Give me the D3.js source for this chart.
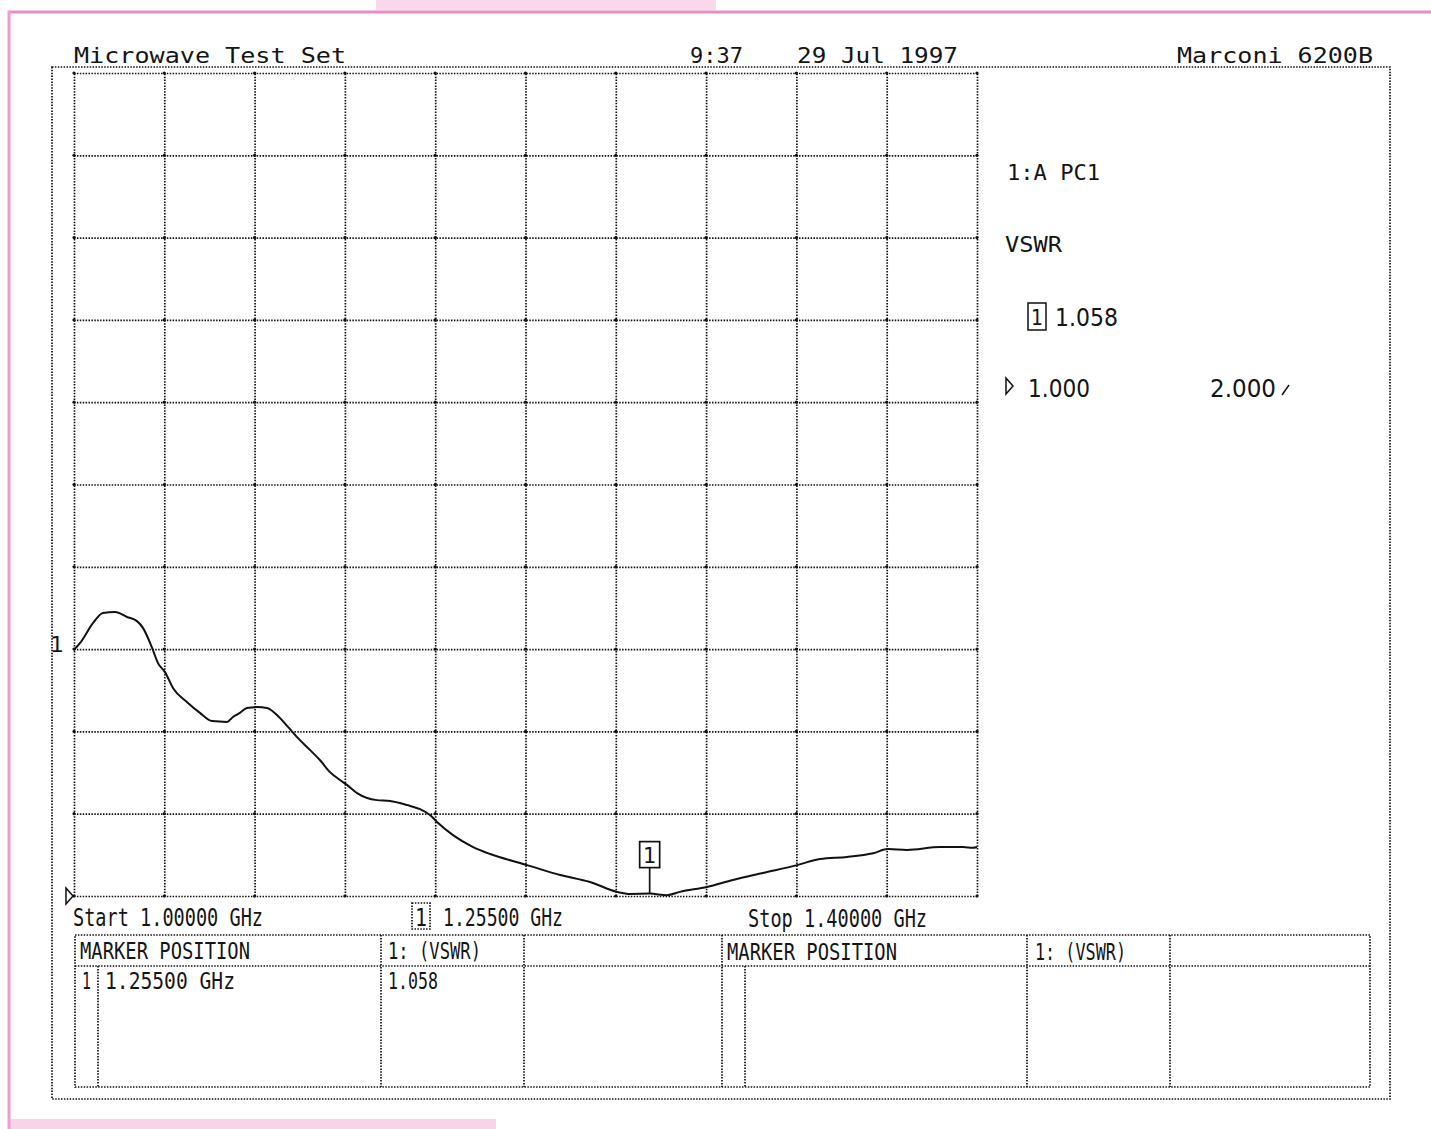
<!DOCTYPE html>
<html>
<head>
<meta charset="utf-8">
<script src="https://cdn.jsdelivr.net/npm/d3@7/dist/d3.min.js"></script>
<style>
  html, body { margin: 0; padding: 0; background: #ffffff; }
  svg { display: block; }
  .plot-text { font-family: "DejaVu Sans Mono", "Liberation Mono", monospace; fill: #151515; }
  .num-text { font-family: "DejaVu Sans", "Liberation Sans", sans-serif; fill: #151515; }
  .dotted { fill: none; stroke: #111; stroke-width: 1.7; stroke-dasharray: 1.5 1.4; }
</style>
</head>
<body>
<script>
// ---- Sweep settings ----
const sweepStartGHz = 1.0;
const sweepStopGHz = 1.4;
const refLevel = 1.000;      // VSWR at the bottom graticule line
const scalePerDiv = 2.000;   // VSWR per vertical division
const divisions = 10;

// ---- Trace 1: VSWR against frequency ----
const freqGHz = [
  1.0000, 1.0027, 1.0084, 1.0128, 1.0182, 1.0235, 1.0279, 1.0306, 1.0346, 1.0372,
  1.0403, 1.0439, 1.0501, 1.0558, 1.0611, 1.0678, 1.0704, 1.0735, 1.0766, 1.0811,
  1.0855, 1.0899, 1.0948, 1.0988, 1.1045, 1.1090, 1.1134, 1.1178, 1.1209, 1.1254,
  1.1342, 1.1400, 1.1475, 1.1533, 1.1577, 1.1608, 1.1679, 1.1768, 1.1843, 1.1976,
  1.2007, 1.2153, 1.2286, 1.2406, 1.2463, 1.2550, 1.2627, 1.2684, 1.2804, 1.2919,
  1.3052, 1.3203, 1.3305, 1.3424, 1.3540, 1.3606, 1.3690, 1.3836, 1.3938, 1.3982,
  1.4000
];
const vswr = [
  6.98, 7.15, 7.63, 7.88, 7.90, 7.78, 7.68, 7.51, 7.03, 6.66,
  6.44, 6.05, 5.71, 5.45, 5.25, 5.23, 5.35, 5.45, 5.57, 5.59,
  5.57, 5.40, 5.11, 4.86, 4.55, 4.30, 4.01, 3.82, 3.70, 3.50,
  3.33, 3.31, 3.21, 3.11, 2.97, 2.80, 2.48, 2.19, 2.02, 1.80,
  1.75, 1.51, 1.34, 1.10, 1.05, 1.058, 1.02, 1.10, 1.22, 1.39,
  1.56, 1.75, 1.90, 1.95, 2.04, 2.14, 2.12, 2.19, 2.19, 2.17,
  2.19
];

// ---- Markers ----
const markerIds = [1];
const markerFreqGHz = [1.255];
const markerVswr = [1.058];

// ---- Annotation text ----
const headerLabels = ["Microwave Test Set", "9:37", "29 Jul 1997", "Marconi 6200B"];
const channelLabels = ["1:A PC1", "VSWR"];
const tableHeaders = ["MARKER POSITION", "1: (VSWR)"];

const W = 1431, H = 1129;
const svg = d3.select("body").append("svg").attr("width", W).attr("height", H);

// paper edges of the page the printout sits on
svg.append("rect").attr("x", 376).attr("y", 0).attr("width", 340).attr("height", 10).attr("fill", "#f8d8ea");
svg.append("rect").attr("x", 10).attr("y", 1119).attr("width", 486).attr("height", 10).attr("fill", "#f7d4e8");
svg.append("line").attr("x1", 8).attr("x2", W).attr("y1", 12).attr("y2", 12)
  .attr("stroke", "#ea8cc6").attr("stroke-width", 3);
svg.append("line").attr("x1", 9).attr("x2", 9).attr("y1", 11).attr("y2", H)
  .attr("stroke", "#ee9ccd").attr("stroke-width", 3);

// ---- Scales ----
const gridLeft = 74, gridRight = 977, gridTop = 73, gridBottom = 896;
const x = d3.scaleLinear().domain([sweepStartGHz, sweepStopGHz]).range([gridLeft, gridRight]);
const y = d3.scaleLinear()
  .domain([refLevel, refLevel + scalePerDiv * divisions])
  .range([gridBottom, gridTop]);

// outer dotted frame of the printout
svg.append("rect").attr("class", "dotted")
  .attr("x", 52).attr("y", 67).attr("width", 1338).attr("height", 1032);

// ---- Graticule drawn with axes ----
const xTicks = d3.range(divisions + 1).map(i => sweepStartGHz + i * (sweepStopGHz - sweepStartGHz) / divisions);
const yTicks = d3.range(divisions + 1).map(i => refLevel + i * scalePerDiv);

const gx = svg.append("g").attr("transform", `translate(0,${gridBottom})`)
  .call(d3.axisBottom(x).tickValues(xTicks).tickSize(-(gridBottom - gridTop)).tickFormat(""));
const gy = svg.append("g").attr("transform", `translate(${gridLeft},0)`)
  .call(d3.axisLeft(y).tickValues(yTicks).tickSize(-(gridRight - gridLeft)).tickFormat(""));
[gx, gy].forEach(g => {
  g.select(".domain").remove();
  g.selectAll(".tick line").attr("class", "dotted").attr("stroke", null);
});

// heavier dots where graticule lines cross
const crossings = [];
xTicks.forEach(fx => yTicks.forEach(vy => crossings.push([fx, vy])));
svg.append("g").selectAll("circle").data(crossings).join("circle")
  .attr("cx", d => x(d[0])).attr("cy", d => y(d[1])).attr("r", 1.6).attr("fill", "#111");

// ---- Trace ----
const traceData = freqGHz.map((f, i) => [f, vswr[i]]);
svg.append("path").datum(traceData)
  .attr("d", d3.line().x(d => x(d[0])).y(d => y(d[1])).curve(d3.curveMonotoneX))
  .attr("fill", "none").attr("stroke", "#111").attr("stroke-width", 2).attr("stroke-linejoin", "round");

// trace number at its start level
svg.append("text").attr("class", "num-text")
  .attr("x", 50).attr("y", y(vswr[0]) + 2).attr("font-size", 22).text("1");

// reference level pointer
const refTri = (px, py) => `M${px},${py - 8} L${px + 7},${py} L${px},${py + 8} Z`;
svg.append("path").attr("d", refTri(66, y(refLevel))).attr("fill", "none").attr("stroke", "#111").attr("stroke-width", 1.5);

// ---- Marker flags on the trace ----
markerIds.forEach((id, i) => {
  const mx = x(markerFreqGHz[i]), my = y(markerVswr[i]);
  const g = svg.append("g");
  g.append("line").attr("x1", mx).attr("x2", mx).attr("y1", my).attr("y2", my - 26)
    .attr("stroke", "#111").attr("stroke-width", 1.7);
  g.append("rect").attr("x", mx - 10).attr("y", my - 52).attr("width", 20).attr("height", 26)
    .attr("fill", "#fff").attr("stroke", "#111").attr("stroke-width", 1.7);
  g.append("text").attr("class", "num-text").attr("x", mx).attr("y", my - 31)
    .attr("text-anchor", "middle").attr("font-size", 21).text(id);
});

// ---- Text helper ----
function label(txt, x0, base, size, len, cls) {
  const t = svg.append("text").attr("class", cls || "plot-text")
    .attr("x", x0).attr("y", base).attr("font-size", size).text(txt);
  if (len) t.attr("textLength", len).attr("lengthAdjust", "spacingAndGlyphs");
  return t;
}

// header line
label(headerLabels[0], 74, 63, 22, 272);
label(headerLabels[1], 690, 63, 22, 53);
label(headerLabels[2], 797, 63, 22, 161);
label(headerLabels[3], 1177, 63, 22, 196);

// channel panel
label(channelLabels[0], 1007, 180, 21, 93);
label(channelLabels[1], 1005, 252, 21, 57);
svg.append("rect").attr("x", 1028).attr("y", 303).attr("width", 18).attr("height", 27)
  .attr("fill", "none").attr("stroke", "#111").attr("stroke-width", 1.5);
label(String(markerIds[0]), 1031, 325, 21, 12, "num-text");
label(d3.format(".3f")(markerVswr[0]), 1055, 326, 25, 63, "num-text");
svg.append("path").attr("d", refTri(1006, 386)).attr("fill", "none").attr("stroke", "#111").attr("stroke-width", 1.5);
label(d3.format(".3f")(refLevel), 1028, 397, 25, 62, "num-text");
label(d3.format(".3f")(scalePerDiv), 1210, 397, 25, 66, "num-text");
svg.append("line").attr("x1", 1282).attr("y1", 395).attr("x2", 1289).attr("y2", 385)
  .attr("stroke", "#111").attr("stroke-width", 1.5);

// sweep annotation
const fmtGHz = f => d3.format(".5f")(f) + " GHz";
label("Start " + fmtGHz(sweepStartGHz), 73, 926, 24, 190);
svg.append("rect").attr("class", "dotted").attr("x", 412).attr("y", 903).attr("width", 18).attr("height", 26);
label(String(markerIds[0]), 415, 926, 24, 12);
label(fmtGHz(markerFreqGHz[0]), 443, 926, 24, 120);
label("Stop " + fmtGHz(sweepStopGHz), 748, 927, 24, 179);

// ---- Marker table ----
const tTop = 935, tHead = 966, tBot = 1087, tLeft = 75, tRight = 1370;
const tg = svg.append("g");
tg.append("rect").attr("class", "dotted").attr("x", tLeft).attr("y", tTop).attr("width", tRight - tLeft).attr("height", tBot - tTop);
tg.append("line").attr("class", "dotted").attr("x1", tLeft).attr("x2", tRight).attr("y1", tHead).attr("y2", tHead);
[381, 524, 722, 1027, 1170].forEach(cx =>
  tg.append("line").attr("class", "dotted").attr("x1", cx).attr("x2", cx).attr("y1", tTop).attr("y2", tBot));
[98, 745].forEach(cx =>
  tg.append("line").attr("class", "dotted").attr("x1", cx).attr("x2", cx).attr("y1", tHead).attr("y2", tBot));

label(tableHeaders[0], 80, 959, 23, 170);
label(tableHeaders[1], 388, 959, 23, 93);
label(tableHeaders[0], 727, 960, 23, 170);
label(tableHeaders[1], 1035, 960, 23, 91);

markerIds.forEach((id, i) => {
  const base = 989 + i * 30;
  label(String(id), 82, base, 23, 9);
  label(fmtGHz(markerFreqGHz[i]), 105, base, 23, 130);
  label(d3.format(".3f")(markerVswr[i]), 388, base, 23, 50);
});
</script>
</body>
</html>
